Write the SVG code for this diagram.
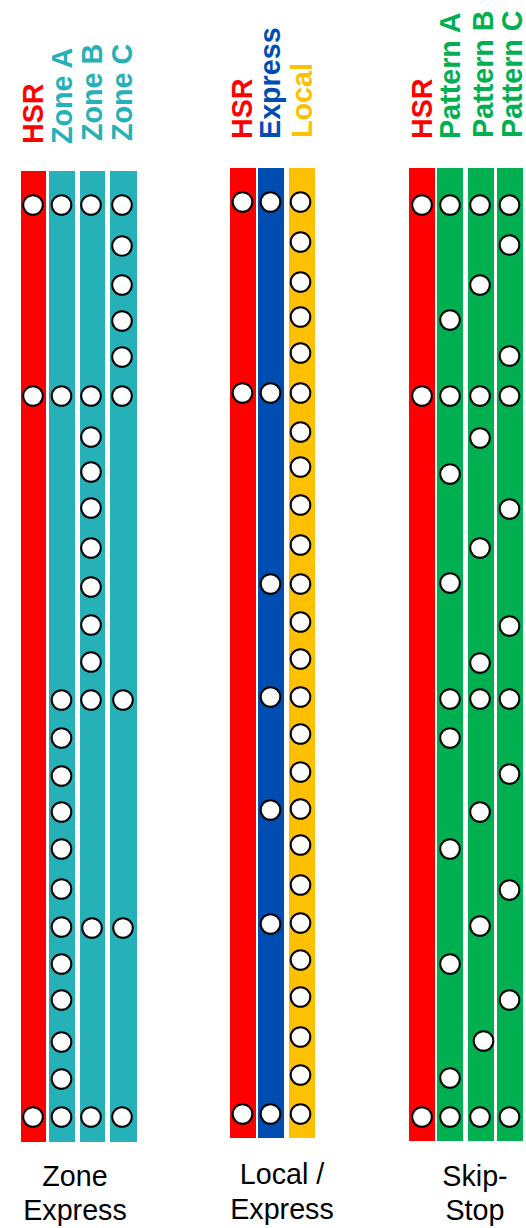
<svg xmlns="http://www.w3.org/2000/svg" width="526" height="1228" viewBox="0 0 526 1228">
<style>
.lbl{font-family:"Liberation Sans",Arial,sans-serif;font-weight:bold;font-size:28.7px}
.cap{font-family:"Liberation Sans",Arial,sans-serif;font-size:28.7px;fill:#000;text-anchor:middle}
.st{fill:#fff;stroke:#000;stroke-width:2}
.red{fill:#FF0000}.teal{fill:#26B0B8}.blue{fill:#004DB2}.yel{fill:#FFC000}.grn{fill:#00B050}
</style>
<rect width="526" height="1228" fill="#fff"/>
<g id="connectors"></g>

<!-- Zone Express -->
<g id="ze-hsr">
<rect class="red" x="21" y="171" width="25" height="971"/>
<text class="lbl red" transform="translate(43,144) rotate(-90)">HSR</text>
<circle class="st" cx="33" cy="205" r="9.8"/><circle class="st" cx="33" cy="396" r="9.8"/><circle class="st" cx="33" cy="1117" r="9.8"/>
</g>
<g id="ze-zone-a">
<rect class="teal" x="49" y="171" width="26" height="971"/>
<text class="lbl teal" transform="translate(71.5,144) rotate(-90)">Zone A</text>
<circle class="st" cx="61.5" cy="205" r="9.8"/><circle class="st" cx="61.5" cy="396" r="9.8"/><circle class="st" cx="61.5" cy="700" r="9.8"/><circle class="st" cx="61.5" cy="738" r="9.8"/><circle class="st" cx="61.5" cy="776" r="9.8"/><circle class="st" cx="61.5" cy="812" r="9.8"/><circle class="st" cx="61.5" cy="849" r="9.8"/><circle class="st" cx="61.5" cy="889" r="9.8"/><circle class="st" cx="61.5" cy="927" r="9.8"/><circle class="st" cx="61.5" cy="964" r="9.8"/><circle class="st" cx="61.5" cy="1000" r="9.8"/><circle class="st" cx="61.5" cy="1042" r="9.8"/><circle class="st" cx="61.5" cy="1079" r="9.8"/><circle class="st" cx="61.5" cy="1117" r="9.8"/>
</g>
<g id="ze-zone-b">
<rect class="teal" x="80" y="171" width="25" height="971"/>
<text class="lbl teal" transform="translate(102.3,141) rotate(-90)">Zone B</text>
<circle class="st" cx="91" cy="205" r="9.8"/><circle class="st" cx="91" cy="396" r="9.8"/><circle class="st" cx="91" cy="437" r="9.8"/><circle class="st" cx="91" cy="472" r="9.8"/><circle class="st" cx="91" cy="508" r="9.8"/><circle class="st" cx="91" cy="548" r="9.8"/><circle class="st" cx="91" cy="587" r="9.8"/><circle class="st" cx="91" cy="625" r="9.8"/><circle class="st" cx="91" cy="662" r="9.8"/><circle class="st" cx="91" cy="700" r="9.8"/><circle class="st" cx="92" cy="928" r="9.8"/><circle class="st" cx="91" cy="1117" r="9.8"/>
</g>
<g id="ze-zone-c">
<rect class="teal" x="110" y="171" width="27" height="971"/>
<text class="lbl teal" transform="translate(131.5,141) rotate(-90)">Zone C</text>
<circle class="st" cx="122" cy="205" r="9.8"/><circle class="st" cx="122" cy="246" r="9.8"/><circle class="st" cx="122" cy="285" r="9.8"/><circle class="st" cx="122" cy="321" r="9.8"/><circle class="st" cx="122" cy="357" r="9.8"/><circle class="st" cx="122" cy="396" r="9.8"/><circle class="st" cx="123" cy="700" r="9.8"/><circle class="st" cx="123" cy="928" r="9.8"/><circle class="st" cx="122" cy="1117" r="9.8"/>
</g>
<text id="ze-caption" class="cap"><tspan x="75" y="1185.5">Zone</tspan><tspan x="75" y="1220">Express</tspan></text>

<!-- Local / Express -->
<g id="le-hsr">
<rect class="red" x="230" y="168" width="26" height="970"/>
<text class="lbl red" transform="translate(251.6,139) rotate(-90)">HSR</text>
<circle class="st" cx="242.5" cy="202" r="9.8"/><circle class="st" cx="242.5" cy="393" r="9.8"/><circle class="st" cx="242.5" cy="1114" r="9.8"/>
</g>
<g id="le-express">
<rect class="blue" x="258" y="168" width="26" height="970"/>
<text class="lbl blue" transform="translate(280,139) rotate(-90)">Express</text>
<circle class="st" cx="270.5" cy="202" r="9.8"/><circle class="st" cx="270.5" cy="393" r="9.8"/><circle class="st" cx="270.5" cy="584" r="9.8"/><circle class="st" cx="270.5" cy="697" r="9.8"/><circle class="st" cx="270.5" cy="810" r="9.8"/><circle class="st" cx="270.5" cy="924" r="9.8"/><circle class="st" cx="270.5" cy="1114" r="9.8"/>
</g>
<g id="le-local">
<rect class="yel" x="289" y="168" width="26" height="970"/>
<text class="lbl yel" transform="translate(312,138) rotate(-90)">Local</text>
<circle class="st" cx="300.5" cy="202" r="9.8"/><circle class="st" cx="300.5" cy="242" r="9.8"/><circle class="st" cx="300.5" cy="282" r="9.8"/><circle class="st" cx="300.5" cy="317" r="9.8"/><circle class="st" cx="300.5" cy="353" r="9.8"/><circle class="st" cx="300.5" cy="393" r="9.8"/><circle class="st" cx="300.5" cy="432" r="9.8"/><circle class="st" cx="300.5" cy="467" r="9.8"/><circle class="st" cx="300.5" cy="505" r="9.8"/><circle class="st" cx="300.5" cy="545" r="9.8"/><circle class="st" cx="300.5" cy="584" r="9.8"/><circle class="st" cx="300.5" cy="622" r="9.8"/><circle class="st" cx="300.5" cy="659" r="9.8"/><circle class="st" cx="300.5" cy="697" r="9.8"/><circle class="st" cx="300.5" cy="734" r="9.8"/><circle class="st" cx="300.5" cy="772" r="9.8"/><circle class="st" cx="300.5" cy="809" r="9.8"/><circle class="st" cx="300.5" cy="845" r="9.8"/><circle class="st" cx="300.5" cy="885" r="9.8"/><circle class="st" cx="300.5" cy="923" r="9.8"/><circle class="st" cx="300.5" cy="960" r="9.8"/><circle class="st" cx="300.5" cy="997" r="9.8"/><circle class="st" cx="300.5" cy="1037" r="9.8"/><circle class="st" cx="300.5" cy="1075" r="9.8"/><circle class="st" cx="300.5" cy="1114" r="9.8"/>
</g>
<text id="le-caption" class="cap"><tspan x="282" y="1184">Local /</tspan><tspan x="282" y="1219">Express</tspan></text>

<!-- Skip-Stop -->
<g id="ss-hsr">
<rect class="red" x="409" y="168" width="26" height="973"/>
<text class="lbl red" transform="translate(431.7,139) rotate(-90)">HSR</text>
<circle class="st" cx="422" cy="205" r="9.8"/><circle class="st" cx="422" cy="396" r="9.8"/><circle class="st" cx="422" cy="1117" r="9.8"/>
</g>
<g id="ss-pattern-a">
<rect class="grn" x="437" y="168" width="26" height="973"/>
<text class="lbl grn" transform="translate(460.2,139) rotate(-90)">Pattern A</text>
<circle class="st" cx="450" cy="205" r="9.8"/><circle class="st" cx="450" cy="320" r="9.8"/><circle class="st" cx="450" cy="396" r="9.8"/><circle class="st" cx="450" cy="474" r="9.8"/><circle class="st" cx="450" cy="583" r="9.8"/><circle class="st" cx="450" cy="699" r="9.8"/><circle class="st" cx="450" cy="738" r="9.8"/><circle class="st" cx="450" cy="849" r="9.8"/><circle class="st" cx="450" cy="964" r="9.8"/><circle class="st" cx="450" cy="1078" r="9.8"/><circle class="st" cx="450" cy="1117" r="9.8"/>
</g>
<g id="ss-pattern-b">
<rect class="grn" x="468" y="168" width="26" height="973"/>
<text class="lbl grn" transform="translate(493,138) rotate(-90)">Pattern B</text>
<circle class="st" cx="480" cy="205" r="9.8"/><circle class="st" cx="480" cy="285" r="9.8"/><circle class="st" cx="480" cy="396" r="9.8"/><circle class="st" cx="480" cy="438" r="9.8"/><circle class="st" cx="480" cy="548" r="9.8"/><circle class="st" cx="480" cy="663" r="9.8"/><circle class="st" cx="480" cy="699" r="9.8"/><circle class="st" cx="480" cy="812" r="9.8"/><circle class="st" cx="480" cy="926" r="9.8"/><circle class="st" cx="483.5" cy="1041" r="9.8"/><circle class="st" cx="480" cy="1117" r="9.8"/>
</g>
<g id="ss-pattern-c">
<rect class="grn" x="497" y="168" width="26" height="973"/>
<text class="lbl grn" transform="translate(521.6,138) rotate(-90)">Pattern C</text>
<circle class="st" cx="509.5" cy="205" r="9.8"/><circle class="st" cx="509.5" cy="245" r="9.8"/><circle class="st" cx="509.5" cy="356" r="9.8"/><circle class="st" cx="509.5" cy="396" r="9.8"/><circle class="st" cx="509.5" cy="509" r="9.8"/><circle class="st" cx="509.5" cy="626" r="9.8"/><circle class="st" cx="509.5" cy="699" r="9.8"/><circle class="st" cx="509.5" cy="774" r="9.8"/><circle class="st" cx="509.5" cy="890" r="9.8"/><circle class="st" cx="509.5" cy="1000" r="9.8"/><circle class="st" cx="509.5" cy="1117" r="9.8"/>
</g>
<text id="ss-caption" class="cap"><tspan x="475" y="1185.5">Skip-</tspan><tspan x="475" y="1220">Stop</tspan></text>
</svg>
